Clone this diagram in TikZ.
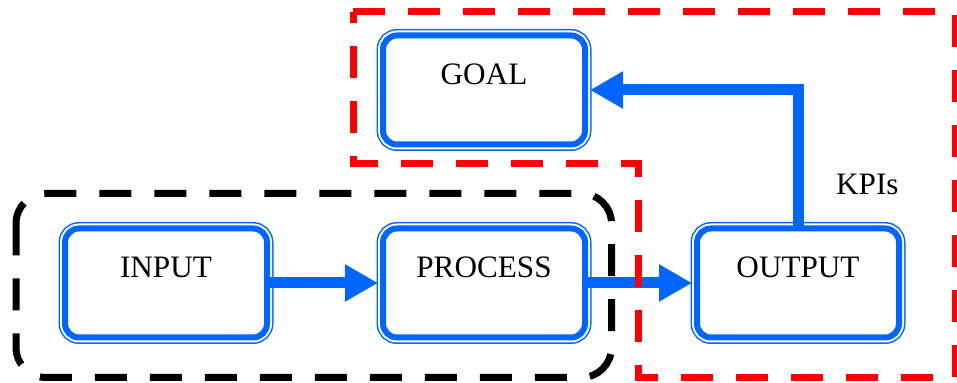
\documentclass[tikz,border=0pt]{standalone}
\usepackage{fontspec}
\setmainfont{Liberation Serif}
\usetikzlibrary{arrows.meta, positioning}

\definecolor{flowblue}{RGB}{0,102,255}

\begin{document}
\begin{tikzpicture}[
  x=0.5pt, y=-0.5pt,
  box/.style = {draw=flowblue, line width=3pt, fill=white, rounded corners=7pt, outer sep=0pt,
    minimum width=101pt, minimum height=54.5pt, text height=11pt, text depth=16.7pt,
    font=\fontsize{15.6}{18}\selectfont,
    preaction={draw=flowblue, line width=6.5pt},
    preaction={draw=white, line width=5pt}},
  flow/.style = {draw=flowblue, line width=5.5pt, -{Triangle[length=16.5pt, width=17.5pt]}, shorten >=2.5pt},
  zone/.style = {line width=3.5pt, dash pattern=on 16pt off 11.5pt},
  node distance=42pt and 57pt
]
  \useasboundingbox (0,0) rectangle (957,383);

  % Process
  \node[box] (process) at (484,283) {PROCESS};

  % Input
  \node[box, left=58pt of process] (input) {INPUT};

  % Output
  \node[box, right=56pt of process] (output) {OUTPUT};

  % Goal
  \node[box, above=42pt of process] (goal) {GOAL};

  % input -> process -> output
  \draw[flow] (input) -- (process);
  \draw[flow] (process) -- (output);

  % output -> goal (KPIs)
  \draw[flow] (output.north) |- node[pos=0.16, right=13pt, font=\fontsize{15.6}{18}\selectfont] {KPIs} (goal.east);

  % red zone round goal and output
  \draw[zone, red] (353,12) -- (955,12) -- (955,378) -- (638.5,378) -- (638.5,163.5) -- (353,163.5) -- cycle;

  % black zone round input and process
  \draw[zone, rounded corners=15pt] (16,193.5) rectangle (611.5,377.5);

\end{tikzpicture}
\end{document}
